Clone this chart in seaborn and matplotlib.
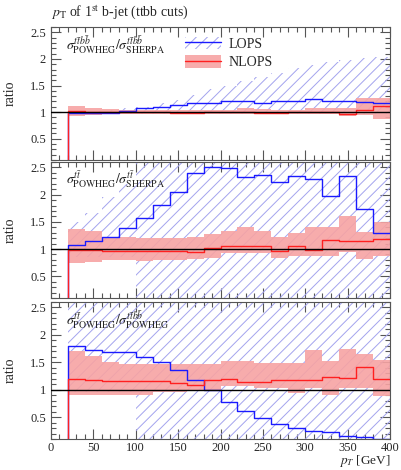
import numpy as np
import pandas as pd
import matplotlib
matplotlib.use("Agg")
import matplotlib.pyplot as plt
from matplotlib.patches import Patch
from matplotlib.lines import Line2D
from matplotlib.ticker import MultipleLocator
import seaborn as sns

# bin edges in pT [GeV]
edges = [20, 40, 60, 80, 100, 120, 140, 160, 180, 200, 220, 240, 260, 280,
         300, 320, 340, 360, 380, 400]

# ttbb POWHEG / ttbb SHERPA
lops_1 = [0.975, 0.985, 0.99, 1.03, 1.07, 1.10, 1.13, 1.17, 1.18, 1.21,
          1.21, 1.17, 1.21, 1.21, 1.24, 1.21, 1.21, 1.19, 1.17]
lops_1_lo = [0.96, 0.96, 0.97, 0.97, 0.97, 0.97, 0.97, 0.97, 0.97, 0.97,
             0.97, 0.97, 0.97, 0.97, 0.97, 0.97, 0.97, 0.97, 0.97]
lops_1_hi = [1.0, 1.02, 1.04, 1.07, 1.10, 1.17, 1.23, 1.32, 1.43, 1.50,
             1.58, 1.66, 1.74, 1.82, 1.88, 1.94, 1.98, 2.01, 2.03]
nlops_1 = [1.02, 1.01, 1.0, 1.0, 1.0, 1.0, 0.99, 0.99, 1.0, 1.0,
           1.0, 0.99, 0.99, 1.0, 1.0, 1.0, 0.96, 1.04, 1.12]
nlops_1_lo = [0.93, 0.95, 0.96, 0.97, 0.97, 0.97, 0.97, 0.96, 0.96, 0.96,
              0.96, 0.96, 0.97, 0.97, 0.97, 0.96, 0.92, 0.95, 0.87]
nlops_1_hi = [1.12, 1.08, 1.05, 1.04, 1.04, 1.04, 1.04, 1.04, 1.04, 1.04,
              1.07, 1.05, 1.04, 1.04, 1.07, 1.08, 1.07, 1.27, 1.27]

# tt POWHEG / tt SHERPA
lops_2 = [1.07, 1.14, 1.23, 1.38, 1.57, 1.81, 2.04, 2.39, 2.51, 2.49,
          2.33, 2.37, 2.24, 2.35, 2.28, 1.97, 2.35, 1.74, 1.29]
lops_2_lo = [0.85, 0.85, 0.85, 0.85, 0.0, 0.0, 0.0, 0.0, 0.0, 0.0,
             0.0, 0.0, 0.0, 0.0, 0.0, 0.0, 0.0, 0.0, 0.0]
lops_2_hi = [1.49, 1.66, 1.96, 2.2, 2.8, 2.8, 2.8, 2.8, 2.8, 2.8,
             2.8, 2.8, 2.8, 2.8, 2.8, 2.8, 2.8, 2.8, 2.8]
nlops_2 = [0.99, 0.98, 0.96, 0.96, 0.96, 0.96, 0.96, 0.95, 1.01, 1.05,
           1.05, 1.05, 0.97, 1.06, 0.98, 1.17, 1.14, 1.14, 1.19]
nlops_2_lo = [0.75, 0.76, 0.79, 0.79, 0.78, 0.80, 0.80, 0.82, 0.83, 0.92,
              0.92, 0.92, 0.83, 0.87, 0.87, 0.87, 0.95, 0.82, 0.87]
nlops_2_hi = [1.37, 1.34, 1.23, 1.23, 1.20, 1.20, 1.20, 1.22, 1.27, 1.34,
              1.41, 1.34, 1.23, 1.29, 1.41, 1.41, 1.61, 1.31, 1.50]

# tt POWHEG / ttbb POWHEG
lops_3 = [1.80, 1.72, 1.68, 1.68, 1.60, 1.51, 1.36, 1.17, 1.0, 0.77,
          0.61, 0.49, 0.37, 0.30, 0.24, 0.22, 0.16, 0.14, 0.105]
lops_3_lo = [0.95, 0.95, 0.95, 0.95, 0.0, 0.0, 0.0, 0.0, 0.0, 0.0,
             0.0, 0.0, 0.0, 0.0, 0.0, 0.0, 0.0, 0.0, 0.0]
lops_3_hi = [2.8] * 19
nlops_3 = [1.20, 1.17, 1.15, 1.15, 1.15, 1.15, 1.12, 1.09, 1.17, 1.19,
           1.14, 1.14, 1.17, 1.17, 1.17, 1.23, 1.22, 1.41, 1.20]
nlops_3_lo = [0.91, 0.91, 0.91, 0.91, 0.91, 0.95, 0.95, 1.0, 1.0, 1.06,
              1.06, 1.03, 1.03, 0.94, 1.03, 0.91, 1.03, 1.03, 0.88]
nlops_3_hi = [1.71, 1.62, 1.51, 1.47, 1.47, 1.47, 1.47, 1.46, 1.46, 1.52,
              1.52, 1.49, 1.49, 1.49, 1.72, 1.52, 1.74, 1.66, 1.54]

panel_labels = [
    r"$\sigma^{t\bar{t}b\bar{b}}_{\mathrm{POWHEG}}/\sigma^{t\bar{t}b\bar{b}}_{\mathrm{SHERPA}}$",
    r"$\sigma^{t\bar{t}}_{\mathrm{POWHEG}}/\sigma^{t\bar{t}}_{\mathrm{SHERPA}}$",
    r"$\sigma^{t\bar{t}}_{\mathrm{POWHEG}}/\sigma^{t\bar{t}b\bar{b}}_{\mathrm{POWHEG}}$",
]
series_names = ["LOPS", "NLOPS"]
title = r"$p_\mathrm{T}$ of 1$^\mathrm{st}$ b-jet (ttbb cuts)"
xlabel = r"$p_T$ [GeV]"

panels = [
    (lops_1, lops_1_lo, lops_1_hi, nlops_1, nlops_1_lo, nlops_1_hi),
    (lops_2, lops_2_lo, lops_2_hi, nlops_2, nlops_2_lo, nlops_2_hi),
    (lops_3, lops_3_lo, lops_3_hi, nlops_3, nlops_3_lo, nlops_3_hi),
]

sns.set_theme(style="ticks")
plt.rcParams["font.family"] = ["Liberation Serif", "DejaVu Serif"]
plt.rcParams["mathtext.fontset"] = "stix"
plt.rcParams["hatch.linewidth"] = 0.7

BLUE = "#1a1aff"
HATCH = "#a3a3ee"
RED = "#ff2020"
BAND = "#f7a3a3"
FRAME = "#555555"

fig = plt.figure(figsize=(4.01, 4.70), dpi=100)
left, width = 51 / 401, 339 / 401
rows = [(27, 160), (162, 298), (302, 439)]
axes = [fig.add_axes([left, 1 - b / 470, width, (b - t) / 470]) for t, b in rows]


def step_frame(vals):
    # histogram outline starting from an empty 0-20 GeV bin
    xs = [0] + edges
    ys = [0.0] + list(vals) + [vals[-1]]
    return pd.DataFrame({"pT": xs, "ratio": ys})


for ax, (lo_c, lo_l, lo_h, nl_c, nl_l, nl_h), lab in zip(axes, panels, panel_labels):
    ax.fill_between(edges, list(lo_l) + [lo_l[-1]], list(lo_h) + [lo_h[-1]],
                    step="post", facecolor="none", edgecolor=HATCH,
                    hatch="///", linewidth=0)
    ax.fill_between(edges, list(nl_l) + [nl_l[-1]], list(nl_h) + [nl_h[-1]],
                    step="post", facecolor=BAND, edgecolor="none", alpha=0.9)
    sns.lineplot(data=step_frame(lo_c), x="pT", y="ratio", ax=ax, color=BLUE,
                 drawstyle="steps-post", estimator=None, sort=False, lw=1.0)
    sns.lineplot(data=step_frame(nl_c), x="pT", y="ratio", ax=ax, color=RED,
                 drawstyle="steps-post", estimator=None, sort=False, lw=1.0)
    ax.axhline(1.0, color="black", lw=1.0, zorder=5)

    ax.set_xlim(0, 400)
    ax.set_ylim(0.1, 2.6)
    ax.xaxis.set_major_locator(MultipleLocator(50))
    ax.xaxis.set_minor_locator(MultipleLocator(10))
    ax.yaxis.set_major_locator(MultipleLocator(0.5))
    ax.yaxis.set_minor_locator(MultipleLocator(0.1))
    ax.yaxis.set_major_formatter(plt.FuncFormatter(lambda v, p: f"{v:g}"))
    ax.tick_params(which="both", direction="in", top=True, right=True,
                   color=FRAME, width=0.8, labelsize=9)
    ax.tick_params(axis="x", pad=2.5)
    ax.tick_params(which="major", length=7)
    ax.tick_params(which="minor", length=3.5)
    for s in ax.spines.values():
        s.set_color(FRAME)
        s.set_linewidth(0.8)
    ax.set_ylabel("ratio", fontsize=10)
    ax.yaxis.set_label_coords(-0.10, 0.5)
    ax.set_xlabel("")
    ax.text(0.045, 0.865, lab, transform=ax.transAxes, ha="left", va="center",
            fontsize=10)

for ax in axes[:2]:
    ax.tick_params(labelbottom=False)

handles = [
    (Patch(facecolor="none", edgecolor=HATCH, hatch="///", linewidth=0),
     Line2D([], [], color=BLUE, lw=1.0)),
    (Patch(facecolor=BAND, edgecolor="none", alpha=0.9),
     Line2D([], [], color=RED, lw=1.0)),
]
axes[0].legend(handles, series_names, loc="upper left",
               bbox_to_anchor=(0.38, 0.97), frameon=False, fontsize=10,
               handlelength=2.6, handleheight=1.0, labelspacing=0.35,
               handletextpad=0.5, borderaxespad=0)

fig.text(51 / 401, 1 - 12 / 470, title, ha="left", va="center", fontsize=10)
fig.text(391 / 401, 1 - 469 / 470, xlabel, ha="right", va="bottom", fontsize=9.5)

fig.savefig("out.png", dpi=100)
